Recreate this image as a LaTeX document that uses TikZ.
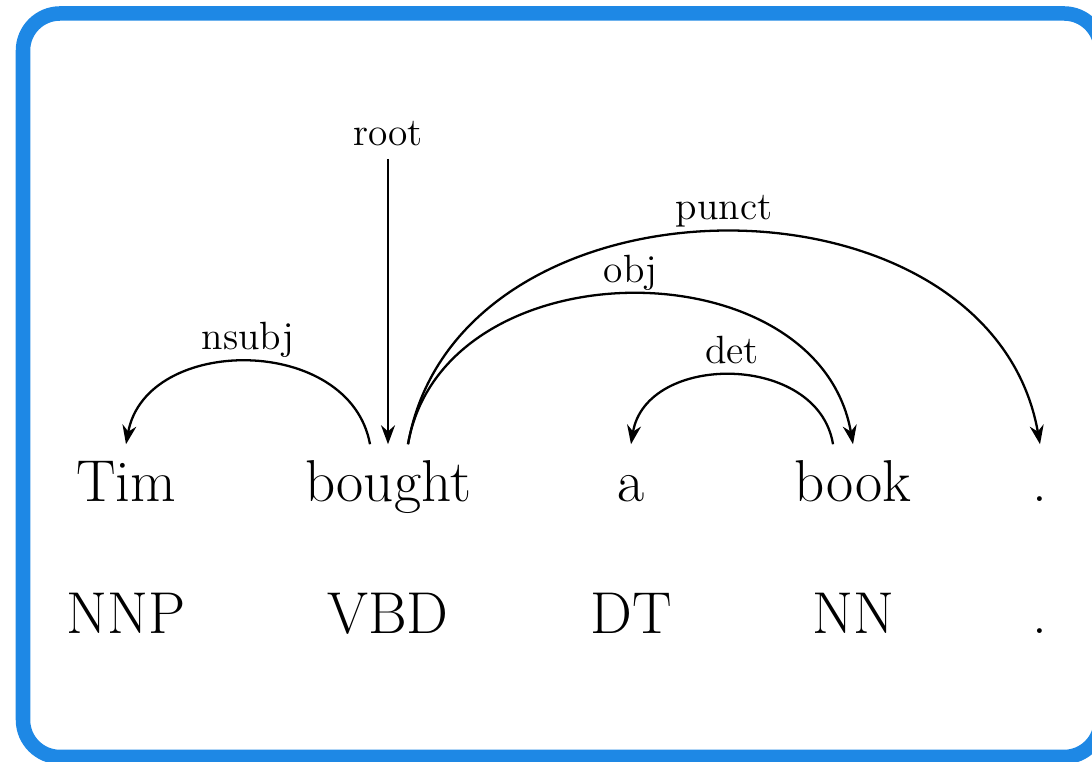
\documentclass[tikz,border=0pt]{standalone}
\usepackage{fontspec}
\usepackage{xcolor}
\usetikzlibrary{arrows.meta,positioning,calc}
\definecolor{frameBlue}{RGB}{30,136,229}

\begin{document}
\begin{tikzpicture}[x=0.01cm,y=0.01cm,>={Stealth[length=1.9mm,width=1.4mm]},
  word/.style={inner sep=0pt,text height=0.57cm,text depth=0pt,anchor=base,font=\fontsize{16.8}{20}\selectfont},
  tag/.style={inner sep=0pt,font=\fontsize{16.8}{20}\selectfont},
  rel/.style={font=\fontsize{11.2}{13}\selectfont,anchor=base},
  dep/.style={->,line width=0.65pt}]
\useasboundingbox (0,0) rectangle (1092,762);
% blue frame round the sentence
\draw[frameBlue,line width=0.145cm,rounded corners=0.37cm] (23,5) rectangle (1101,748.5);
% the words
\node[word] (tim) at (126,260) {Tim};
\node[word] (bought) at (388,260) {bought};
\node[word] (a) at (631,260) {a};
\node[word] (book) at (853,260) {book};
\node[word] (dot) at (1040,260) {.};
% their tags
\node[tag,below=1.31cm of tim.base,anchor=base] (nnp) {NNP};
\node[tag,below=1.31cm of bought.base,anchor=base] (vbd) {VBD};
\node[tag,below=1.31cm of a.base,anchor=base] (dt) {DT};
\node[tag,below=1.31cm of book.base,anchor=base] (nn) {NN};
\node[tag,below=1.31cm of dot.base,anchor=base] (pdot) {.};
% root
\node[rel] (root) at (388,616) {root};
\draw[dep] (root) -- (bought.north);
% arcs
\draw[dep] ($(bought.north)+(-18,0)$) .. controls +(-20,110) and +(20,110) .. (tim.north)
  node[rel,midway,yshift=1.2mm] {nsubj};
\draw[dep] ($(bought.north)+(20,0)$) .. controls +(35,200) and +(-35,200) .. (book.north)
  node[rel,midway,yshift=1.2mm] {obj};
\draw[dep] ($(bought.north)+(20,0)$) .. controls +(50,283) and +(-50,283) .. (dot.north)
  node[rel,midway,yshift=1.2mm] {punct};
\draw[dep] ($(book.north)+(-20,0)$) .. controls +(-15,92) and +(15,92) .. (a.north)
  node[rel,midway,yshift=1.2mm] {det};
\end{tikzpicture}
\end{document}
